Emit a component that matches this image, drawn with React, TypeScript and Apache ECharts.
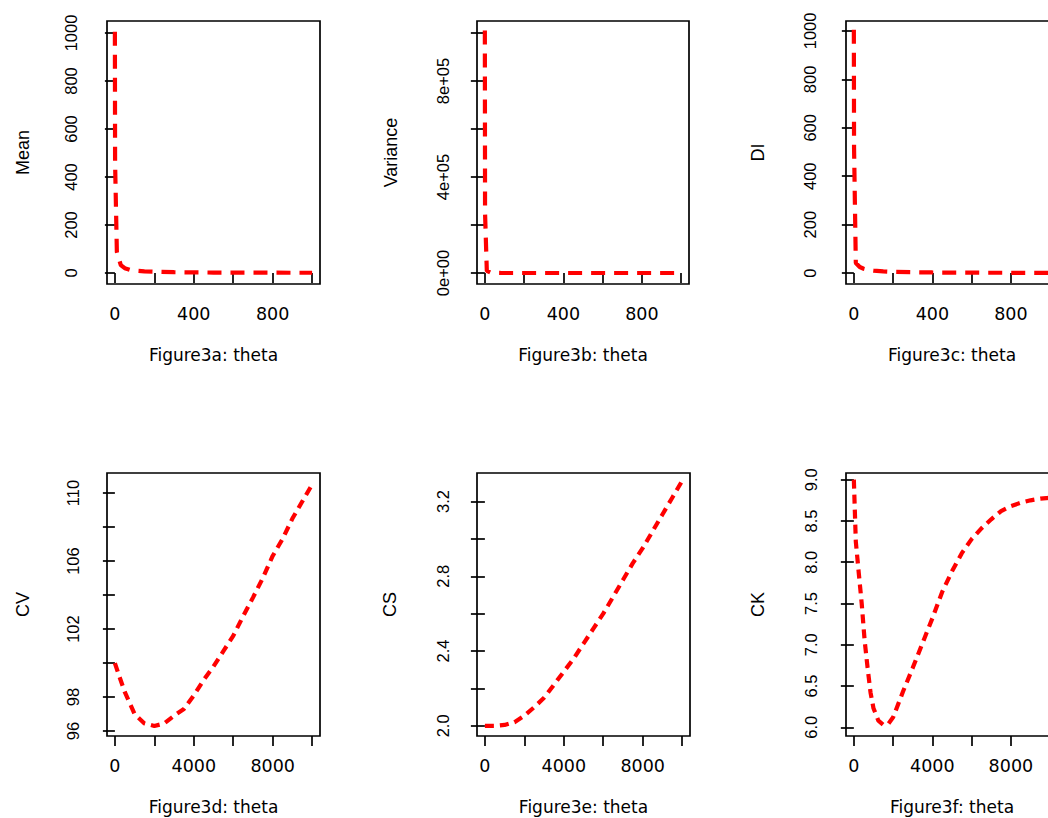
import React, { useEffect, useRef } from "react";
import * as echarts from "echarts";

// ---------- data ----------
const thetaSmall = [0, 1, 10, 30, 50, 80, 100, 150, 200, 300, 400, 500, 600, 700, 800, 900, 1000];
const meanValues = [1005, 460, 88, 33, 20, 12.5, 10, 7, 5.4, 3.3, 2.5, 2, 1.7, 1.4, 1.2, 1.1, 1.0];
const varianceValues = [1010000, 250000, 9000, 1200, 500, 200, 120, 60, 35, 15, 9, 6, 4, 3, 2.5, 2, 1.8];
const diValues = [1005, 520, 42, 25, 18, 12, 10, 7, 5, 3.5, 2.6, 2.1, 1.8, 1.5, 1.3, 1.2, 1.1];

const thetaCV = [0, 200, 500, 1000, 1500, 2000, 2500, 3000, 3500, 4000, 4500, 5000, 5500, 6000, 6500, 7000, 7500, 8000, 8500, 9000, 9500, 10000];
const cvValues = [100.0, 99.3, 98.3, 97.0, 96.45, 96.3, 96.45, 96.9, 97.3, 98.1, 99.0, 99.8, 100.7, 101.6, 102.75, 103.85, 105.0, 106.3, 107.3, 108.5, 109.5, 110.5];

const thetaCS = [0, 500, 1000, 1500, 2000, 2500, 3000, 3500, 4000, 4500, 5000, 5500, 6000, 6500, 7000, 7500, 8000, 8500, 9000, 9500, 10000];
const csValues = [2.0, 2.0, 2.005, 2.02, 2.055, 2.1, 2.15, 2.22, 2.29, 2.36, 2.44, 2.52, 2.6, 2.69, 2.78, 2.87, 2.95, 3.04, 3.13, 3.22, 3.31];

const thetaCK = [0, 100, 250, 400, 550, 700, 850, 1000, 1250, 1500, 1750, 2000, 2500, 3000, 3500, 4000, 4500, 5000, 5500, 6000, 6500, 7000, 7500, 8000, 8500, 9000, 9500, 10000];
const ckValues = [9.0, 8.25, 7.87, 7.5, 7.05, 6.72, 6.42, 6.23, 6.08, 6.03, 6.04, 6.12, 6.43, 6.72, 7.02, 7.32, 7.64, 7.89, 8.11, 8.28, 8.41, 8.52, 8.62, 8.68, 8.72, 8.75, 8.77, 8.78];

// tick positions and labels
const xTicksSmall = [0, 200, 400, 600, 800, 1000];
const xLabelsSmall = [0, 400, 800];
const xTicksLarge = [0, 2000, 4000, 6000, 8000, 10000];
const xLabelsLarge = [0, 4000, 8000];
const yTicksMean = [0, 200, 400, 600, 800, 1000];
const yLabelsMean = [0, 200, 400, 600, 800, 1000];
const yTicksVar = [0, 200000, 400000, 600000, 800000, 1000000];
const yLabelsVar = [0, 400000, 800000];
const yTicksCV = [96, 98, 100, 102, 104, 106, 108, 110];
const yLabelsCV = [96, 98, 102, 106, 110];
const yTicksCS = [2.0, 2.2, 2.4, 2.6, 2.8, 3.0, 3.2];
const yLabelsCS = [2.0, 2.4, 2.8, 3.2];
const yTicksCK = [6.0, 6.5, 7.0, 7.5, 8.0, 8.5, 9.0];
const yLabelsCK = [6.0, 6.5, 7.0, 7.5, 8.0, 8.5, 9.0];

const FONT_H = '"DejaVu Sans", "Liberation Sans", sans-serif';
const FONT_V = '"Liberation Sans", Arial, sans-serif';
const RED = "#ff0000";

function sciFmt(v: number): string {
  if (v === 0) return "0e+00";
  const e = Math.floor(Math.log10(Math.abs(v)));
  const m = Math.round(v / Math.pow(10, e));
  return `${m}e+${String(e).padStart(2, "0")}`;
}

type PanelCfg = {
  left: number; top: number; width: number; height: number;
  xs: number[]; ys: number[];
  xMin: number; xMax: number; xTicks: number[]; xLabels: number[]; xName: string;
  yMin: number; yMax: number; yTicks: number[]; yLabels: number[]; yName: string;
  yFmt: (v: number) => string;
  yLabelMargin: number; yNameGap: number; yTickLen: number;
  dash: number[];
};

export default function App() {
  const ref = useRef<HTMLDivElement>(null);
  useEffect(() => {
    if (!ref.current) return;
    const chart = echarts.init(ref.current, undefined, { renderer: "svg" });
    const panels: PanelCfg[] = [
      { left: 107, top: 21, width: 213, height: 263, xs: thetaSmall, ys: meanValues,
        xMin: -40, xMax: 1040, xTicks: xTicksSmall, xLabels: xLabelsSmall, xName: "Figure3a: theta",
        yMin: -45.8, yMax: 1050, yTicks: yTicksMean, yLabels: yLabelsMean, yName: "Mean",
        yFmt: (v) => String(v), yLabelMargin: 28, yNameGap: 75, yTickLen: 10, dash: [14, 9] },
      { left: 477, top: 21, width: 212, height: 263, xs: thetaSmall, ys: varianceValues,
        xMin: -40, xMax: 1040, xTicks: xTicksSmall, xLabels: xLabelsSmall, xName: "Figure3b: theta",
        yMin: -45800, yMax: 1050000, yTicks: yTicksVar, yLabels: yLabelsVar, yName: "Variance",
        yFmt: sciFmt, yLabelMargin: 26, yNameGap: 77, yTickLen: 14, dash: [14, 9] },
      { left: 846, top: 21, width: 212, height: 263, xs: thetaSmall, ys: diValues,
        xMin: -40, xMax: 1040, xTicks: xTicksSmall, xLabels: xLabelsSmall, xName: "Figure3c: theta",
        yMin: -45, yMax: 1041, yTicks: yTicksMean, yLabels: yLabelsMean, yName: "DI",
        yFmt: (v) => String(v), yLabelMargin: 28, yNameGap: 79, yTickLen: 12, dash: [14, 9] },
      { left: 107, top: 473, width: 213, height: 263, xs: thetaCV, ys: cvValues,
        xMin: -400, xMax: 10400, xTicks: xTicksLarge, xLabels: xLabelsLarge, xName: "Figure3d: theta",
        yMin: 95.71, yMax: 111.18, yTicks: yTicksCV, yLabels: yLabelsCV, yName: "CV",
        yFmt: (v) => String(Math.round(v)), yLabelMargin: 26, yNameGap: 75, yTickLen: 12, dash: [9, 6] },
      { left: 477, top: 473, width: 213, height: 263, xs: thetaCS, ys: csValues,
        xMin: -400, xMax: 10400, xTicks: xTicksLarge, xLabels: xLabelsLarge, xName: "Figure3e: theta",
        yMin: 1.946, yMax: 3.352, yTicks: yTicksCS, yLabels: yLabelsCS, yName: "CS",
        yFmt: (v) => v.toFixed(1), yLabelMargin: 26, yNameGap: 78, yTickLen: 14, dash: [9, 6] },
      { left: 846, top: 473, width: 212, height: 263, xs: thetaCK, ys: ckValues,
        xMin: -400, xMax: 10400, xTicks: xTicksLarge, xLabels: xLabelsLarge, xName: "Figure3f: theta",
        yMin: 5.894, yMax: 9.081, yTicks: yTicksCK, yLabels: yLabelsCK, yName: "CK",
        yFmt: (v) => v.toFixed(1), yLabelMargin: 27, yNameGap: 79, yTickLen: 13, dash: [9, 6] },
    ];

    const grid: any[] = [];
    const xAxis: any[] = [];
    const yAxis: any[] = [];
    const series: any[] = [];
    panels.forEach((p, i) => {
      grid.push({
        left: p.left, top: p.top, width: p.width, height: p.height,
        show: true, borderColor: "#000", borderWidth: 1.7, backgroundColor: "transparent",
        containLabel: false,
      });
      xAxis.push({
        gridIndex: i, type: "value", min: p.xMin, max: p.xMax,
        name: p.xName, nameLocation: "middle", nameGap: 62,
        nameTextStyle: { fontFamily: FONT_H, fontSize: 17, color: "#000" },
        axisLine: { show: false },
        axisTick: { show: true, inside: false, length: 10, customValues: p.xTicks, lineStyle: { color: "#000", width: 1.7 } },
        axisLabel: { show: true, customValues: p.xLabels, margin: 21, fontFamily: FONT_H, fontSize: 17.5, color: "#000", formatter: (v: number) => String(v) },
        splitLine: { show: false },
      });
      yAxis.push({
        gridIndex: i, type: "value", min: p.yMin, max: p.yMax,
        name: p.yName, nameLocation: "middle", nameGap: p.yNameGap, nameRotate: 90,
        nameTextStyle: { fontFamily: FONT_V, fontSize: 18, color: "#000" },
        axisLine: { show: false },
        axisTick: { show: true, inside: false, length: p.yTickLen, customValues: p.yTicks, lineStyle: { color: "#000", width: 1.7 } },
        axisLabel: { show: true, customValues: p.yLabels, margin: p.yLabelMargin, rotate: 90, fontFamily: FONT_V, fontSize: 16.5, color: "#000", formatter: p.yFmt },
        splitLine: { show: false },
      });
      series.push({
        type: "line", xAxisIndex: i, yAxisIndex: i,
        data: p.xs.map((x, j) => [x, p.ys[j]]),
        showSymbol: false, symbol: "none", silent: true, clip: true,
        lineStyle: { color: RED, width: 4.2, type: p.dash, cap: "butt" },
      });
    });

    chart.setOption({
      animation: false,
      backgroundColor: "#fff",
      grid, xAxis, yAxis, series,
    });
    return () => chart.dispose();
  }, []);

  // The plotting region is wider than the window (the right-hand panels are cut off, as in the reference);
  // a fixed element does not make the page scroll.
  return <div ref={ref} style={{ position: "fixed", left: 0, top: 0, width: 1080, height: 818 }} />;
}
